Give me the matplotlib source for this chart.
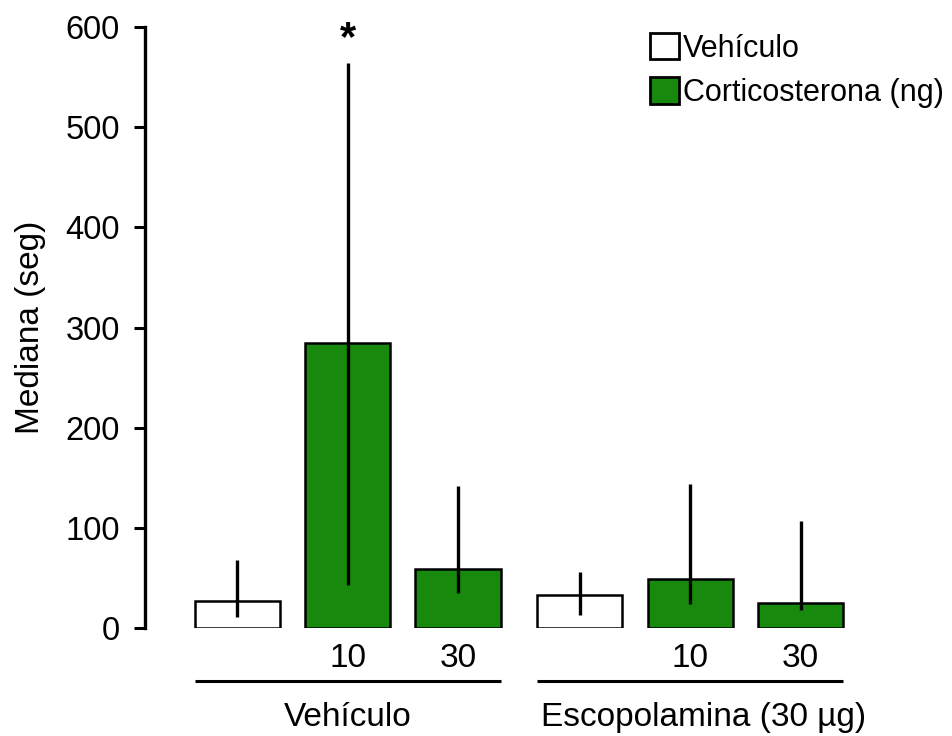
import matplotlib
matplotlib.use('Agg')
import matplotlib.pyplot as plt
from matplotlib.patches import Patch

plt.rcParams['font.family'] = ['Liberation Sans', 'DejaVu Sans']

# medians and interquartile limits, in seconds
groups = ['Vehículo', 'Escopolamina (30 µg)']
dose_labels = ['', '10', '30']
medians = [27, 285, 59, 33, 49, 25]
lower = [11, 43, 35, 13, 24, 18]
upper = [68, 564, 142, 56, 144, 107]
is_vehicle = [True, False, False, True, False, False]

GREEN = '#178a0d'
positions = [0, 1, 2, 3.1, 4.1, 5.1]
width = 0.77

fig = plt.figure(figsize=(9.53, 7.36), dpi=100)
ax = fig.add_axes([145 / 953, 108 / 736, 755 / 953, 601 / 736])

colors = ['white' if v else GREEN for v in is_vehicle]
ax.bar(positions, medians, width=width, color=colors, edgecolor='black',
       linewidth=1.8, zorder=2)
yerr = [[m - lo for m, lo in zip(medians, lower)],
        [hi - m for m, hi in zip(medians, upper)]]
ax.errorbar(positions, medians, yerr=yerr, fmt='none', ecolor='black',
            elinewidth=2.4, capsize=0, zorder=3)

ax.set_ylim(0, 600)
ax.set_xlim(-0.833, 6.0)
ax.set_yticks(range(0, 601, 100))
ax.tick_params(axis='y', labelsize=23.5, length=8, width=2.2, pad=10)
ax.set_xticks([])
for side in ['top', 'right', 'bottom']:
    ax.spines[side].set_visible(False)
ax.spines['left'].set_linewidth(2.4)
ax.set_ylabel('Mediana (seg)', fontsize=24, labelpad=14)

# dose labels under each bar, group rules and group names
for i, p in enumerate(positions):
    ax.text(p, -30, dose_labels[i % 3], ha='center', va='center',
            fontsize=24, clip_on=False)
label_x = [positions[1], positions[4] + 0.12]
for g, name in enumerate(groups):
    start = positions[3 * g] - width / 2
    end = positions[3 * g + 2] + width / 2
    ax.plot([start, end], [-53, -53], color='black', linewidth=2.2,
            clip_on=False, solid_capstyle='butt')
    ax.text(label_x[g], -89, name, ha='center', va='center',
            fontsize=24, clip_on=False)

ax.text(positions[1], 588, '*', ha='center', va='center', fontsize=30,
        fontweight='bold')

handles = [Patch(facecolor='white', edgecolor='black', linewidth=2),
           Patch(facecolor=GREEN, edgecolor='black', linewidth=2)]
fig.legend(handles, ['Vehículo', 'Corticosterona (ng)'], loc='upper left',
           bbox_to_anchor=(650 / 953, 1 - 33 / 736), frameon=False,
           fontsize=22, handlelength=0.95, handleheight=0.95,
           handletextpad=0.12, labelspacing=0.45, borderpad=0,
           borderaxespad=0)

fig.savefig('out.png', dpi=100)
